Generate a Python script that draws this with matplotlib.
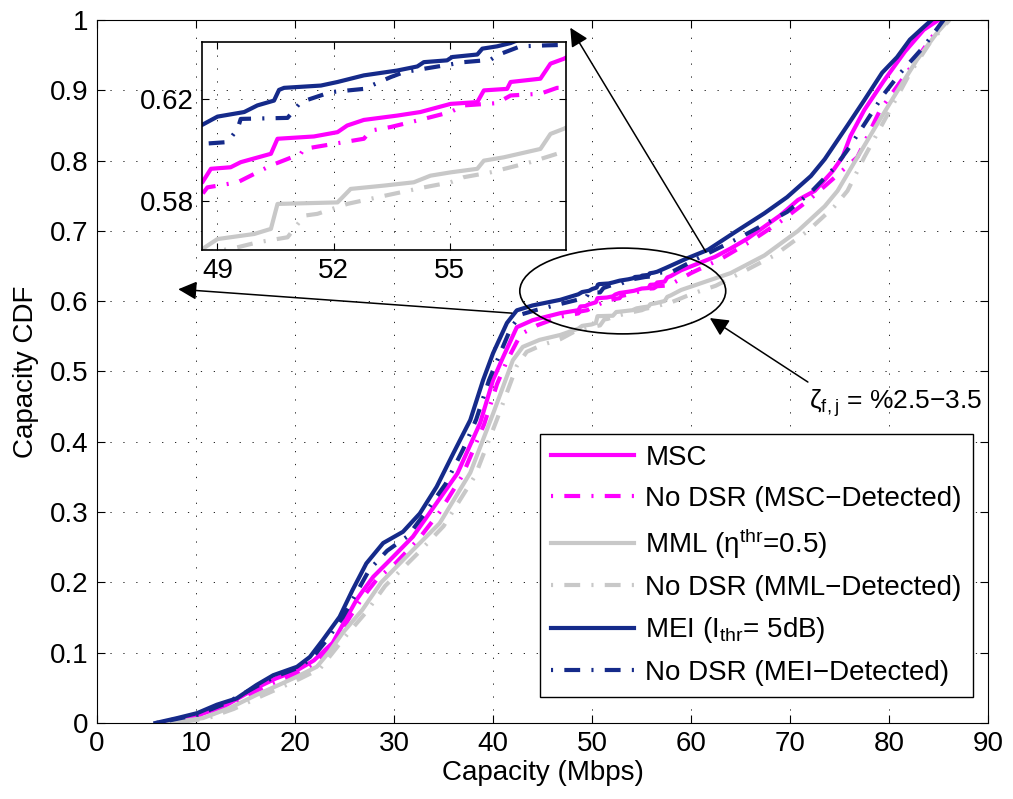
import matplotlib
matplotlib.use("Agg")
import matplotlib.pyplot as plt
from matplotlib.patches import Ellipse

plt.rcParams['font.family'] = ['Liberation Sans', 'DejaVu Sans']
plt.rcParams['mathtext.fontset'] = 'custom'
plt.rcParams['mathtext.rm'] = 'Liberation Sans'
plt.rcParams['mathtext.it'] = 'Liberation Sans'
plt.rcParams['mathtext.default'] = 'regular'

# ---- data (capacity in Mbps, CDF value) ----
msc_x = [6.2, 10.4, 13.0, 16.1, 18.0, 20.2, 21.9, 23.8, 26.2, 26.9, 27.9, 29.6, 31.9, 34.0, 36.4,
         38.7, 40.0, 41.0, 42.4, 44.0, 46.8,
         48.61, 48.83, 49.34, 49.6, 50.38, 50.55, 51.49, 52.10, 52.35, 52.78, 53.64, 54.24, 55.02,
         55.71, 55.88, 56.48, 56.57, 57.34, 57.60, 57.94,
         59.0, 62.4, 64.0, 65.7, 67.4, 69.0, 70.8, 72.5, 74.3, 75.3, 76.1, 77.5, 79.5, 81.6, 83.5, 85.0]
msc_y = [0.0, 0.012, 0.025, 0.050, 0.063, 0.075, 0.089, 0.114, 0.175, 0.189, 0.208, 0.232, 0.265, 0.307, 0.355,
         0.427, 0.488, 0.520, 0.563, 0.573, 0.583,
         0.5872, 0.5925, 0.5931, 0.5951, 0.5984, 0.6043, 0.6052, 0.6069, 0.6095, 0.6117, 0.6134, 0.6148, 0.6180,
         0.6187, 0.6233, 0.6239, 0.6266, 0.6279, 0.6338, 0.6357,
         0.644, 0.663, 0.675, 0.689, 0.706, 0.722, 0.744, 0.757, 0.785, 0.805, 0.835, 0.872, 0.914, 0.955, 0.986, 1.0]

msc_nd_x = [6.3, 10.5, 13.3, 16.3, 18.3, 20.4, 22.2, 24.0, 25.5, 26.8, 28.3, 30.2, 32.5, 34.6, 36.9,
            39.1, 40.4, 41.4, 42.8, 44.5, 46.8,
            48.61, 48.74, 49.52, 50.38, 51.15, 51.23, 52.78, 52.96, 53.47, 54.33, 55.02, 55.36, 56.22,
            56.57, 57.34, 57.77, 58.0,
            60.0, 63.0, 66.0, 69.0, 72.0, 74.5, 76.8, 79.1, 81.5, 84.1, 85.5]
msc_nd_y = [0.0, 0.010, 0.024, 0.047, 0.060, 0.072, 0.086, 0.114, 0.150, 0.178, 0.205, 0.228, 0.262, 0.300, 0.352,
            0.425, 0.482, 0.515, 0.553, 0.566, 0.578,
            0.5826, 0.5852, 0.5872, 0.5938, 0.5984, 0.6003, 0.6043, 0.6075, 0.6089, 0.6121, 0.6148, 0.6174, 0.6183,
            0.6213, 0.6220, 0.6243, 0.6243,
            0.640, 0.660, 0.685, 0.713, 0.745, 0.776, 0.805, 0.872, 0.919, 0.971, 1.0]

mml_x = [7.2, 10.7, 13.5, 16.1, 18.5, 20.2, 22.2, 23.5, 24.8, 26.8, 28.7, 31.9, 34.6, 37.7,
         40.0, 41.0, 42.0, 43.0, 44.7, 46.8,
         48.61, 49.0, 49.95, 50.38, 50.55, 52.10, 52.44, 53.30, 54.07, 54.50, 55.02, 55.71, 55.88,
         56.39, 57.34, 57.60, 57.94,
         59.0, 61.5, 64.0, 67.4, 70.8, 73.5, 74.8, 76.6, 78.8, 80.8, 82.8, 84.8, 86.0]
mml_y = [0.0, 0.007, 0.022, 0.040, 0.055, 0.066, 0.080, 0.102, 0.128, 0.161, 0.200, 0.246, 0.284, 0.356,
         0.440, 0.478, 0.516, 0.535, 0.545, 0.552,
         0.5610, 0.5649, 0.5669, 0.5689, 0.5787, 0.5793, 0.5846, 0.5859, 0.5872, 0.5898, 0.5911, 0.5925, 0.5957,
         0.5970, 0.6003, 0.6062, 0.6082,
         0.616, 0.628, 0.640, 0.665, 0.700, 0.735, 0.757, 0.800, 0.852, 0.898, 0.943, 0.981, 1.0]

mml_nd_x = [7.4, 11.0, 13.8, 16.4, 18.8, 20.5, 22.5, 23.8, 25.2, 27.2, 29.1, 32.3, 35.0, 38.2,
            40.4, 41.4, 42.4, 43.4, 45.0, 46.8,
            48.61, 49.34, 50.03, 50.81, 51.24, 51.58, 52.35, 53.13, 54.33, 55.02, 55.36, 56.05, 56.57,
            57.08, 57.77, 58.0,
            60.0, 62.5, 65.0, 68.4, 71.8, 74.5, 75.8, 77.5, 80.1, 82.1, 84.1, 86.1]
mml_nd_y = [0.0, 0.006, 0.020, 0.037, 0.052, 0.063, 0.077, 0.100, 0.125, 0.158, 0.195, 0.240, 0.280, 0.352,
            0.432, 0.470, 0.508, 0.528, 0.538, 0.546,
            0.5597, 0.5610, 0.5636, 0.5656, 0.5741, 0.5748, 0.5787, 0.5813, 0.5852, 0.5872, 0.5892, 0.5911, 0.5931,
            0.5951, 0.5984, 0.5984,
            0.610, 0.622, 0.640, 0.665, 0.700, 0.735, 0.757, 0.805, 0.872, 0.924, 0.967, 1.0]

mei_x = [5.9, 8.1, 10.1, 12.1, 14.1, 16.1, 17.8, 20.2, 21.5, 22.8, 24.5, 25.8, 27.2, 28.9, 30.9,
         32.6, 34.3, 36.0, 37.7, 39.0, 40.0, 41.4, 42.4, 44.0, 46.8,
         48.61, 49.0, 49.69, 50.03, 50.46, 50.59, 50.72, 51.67, 52.10, 52.78, 53.64, 54.16, 54.33,
         54.93, 55.06, 55.71, 55.84, 56.22, 56.57,
         57.4, 59.6, 61.7, 64.3, 67.4, 69.7, 72.1, 73.5, 75.8, 77.5, 79.3, 80.8, 82.1, 83.5, 84.3]
mei_y = [0.0, 0.007, 0.014, 0.026, 0.035, 0.054, 0.068, 0.080, 0.094, 0.118, 0.151, 0.189, 0.227, 0.256, 0.272,
         0.298, 0.336, 0.384, 0.431, 0.488, 0.526, 0.569, 0.587, 0.594, 0.602,
         0.6098, 0.6130, 0.6148, 0.6174, 0.6193, 0.6235, 0.6243, 0.6252, 0.6266, 0.6292, 0.6311, 0.6327, 0.6344,
         0.6351, 0.6364, 0.6374, 0.6397, 0.6406, 0.6419,
         0.647, 0.661, 0.673, 0.697, 0.725, 0.748, 0.778, 0.802, 0.850, 0.886, 0.925, 0.947, 0.972, 0.990, 1.0]

mei_nd_x = [6.0, 10.2, 13.0, 16.1, 18.0, 20.2, 21.7, 23.2, 24.8, 26.2, 27.5, 29.3, 31.4, 33.2, 35.2,
            37.0, 38.3, 39.6, 40.6, 41.8, 42.8, 44.5, 46.8,
            48.61, 49.26, 49.52, 49.6, 50.81, 51.15, 51.92, 52.78, 53.47, 53.82, 54.85, 55.36, 56.05,
            56.22, 56.82, 57.51, 58.0,
            60.4, 65.0, 69.7, 72.1, 74.5, 75.8, 77.8, 79.5, 81.1, 83.5, 85.5]
mei_nd_y = [0.0, 0.012, 0.028, 0.052, 0.066, 0.078, 0.092, 0.118, 0.150, 0.185, 0.218, 0.245, 0.266, 0.300, 0.340,
            0.390, 0.432, 0.488, 0.522, 0.562, 0.581, 0.588, 0.596,
            0.6023, 0.6030, 0.6082, 0.6121, 0.6125, 0.6187, 0.6226, 0.6239, 0.6285, 0.6305, 0.6331, 0.6344, 0.6353,
            0.6371, 0.6406, 0.6410, 0.6412,
            0.659, 0.691, 0.727, 0.755, 0.790, 0.815, 0.858, 0.895, 0.924, 0.962, 1.0]

labels = ['MSC', 'No DSR (MSC\u2212Detected)', 'MML (\u03b7$^{thr}$=0.5)',
          'No DSR (MML\u2212Detected)', 'MEI (I$_{thr}$= 5dB)', 'No DSR (MEI\u2212Detected)']

magenta = '#ff00ff'
gray = '#c8c8c8'
navy = '#152a8a'
dashdot = (0, (0.5, 2.7, 3.8, 2.7))
fs = 20

series = [
    (msc_x, msc_y, magenta, '-'),
    (msc_nd_x, msc_nd_y, magenta, dashdot),
    (mml_x, mml_y, gray, '-'),
    (mml_nd_x, mml_nd_y, gray, dashdot),
    (mei_x, mei_y, navy, '-'),
    (mei_nd_x, mei_nd_y, navy, dashdot),
]

fig = plt.figure(figsize=(10.13, 7.99), dpi=100)
ax = fig.add_axes([0.0958, 0.0951, 0.8796, 0.8799])

for (xs, ys, c, ls), lab in zip(series, labels):
    ax.plot(xs, ys, color=c, linestyle=ls, lw=3, label=lab)

ax.set_xlim(0, 90)
ax.set_ylim(0, 1)
ax.set_xticks(range(0, 91, 10))
ax.set_yticks([i / 10 for i in range(11)])
ax.set_yticklabels(['0', '0.1', '0.2', '0.3', '0.4', '0.5', '0.6', '0.7', '0.8', '0.9', '1'])
ax.tick_params(direction='in', top=True, right=True, length=6, labelsize=fs, pad=6)
ax.grid(True, color='k', lw=0.6, linestyle=(0, (1.5, 14)))
ax.set_xlabel('Capacity (Mbps)', fontsize=fs, labelpad=2)
ax.set_ylabel('Capacity CDF', fontsize=fs, labelpad=8)

leg = ax.legend(loc='lower right', bbox_to_anchor=(0.983, 0.037), borderaxespad=0, fontsize=fs,
                handlelength=3.0, labelspacing=0.52, borderpad=0.4, handletextpad=0.4,
                fancybox=False, framealpha=1, edgecolor='k')
leg.get_frame().set_linewidth(1.0)

# ellipse and arrows
ax.add_patch(Ellipse((53.1, 0.6145), 20.8, 0.122, fill=False, ec='k', lw=1.2, zorder=6))
arrow = dict(arrowstyle='-|>', color='k', lw=1.1, mutation_scale=28, shrinkA=0, shrinkB=0)
ax.annotate('', xy=(8.2, 0.617), xytext=(41.9, 0.583), arrowprops=arrow, annotation_clip=False, zorder=7)
ax.annotate('', xy=(47.8, 0.989), xytext=(61.5, 0.670), arrowprops=arrow, annotation_clip=False, zorder=7)
ax.annotate('', xy=(61.9, 0.576), xytext=(71.8, 0.485), arrowprops=arrow, annotation_clip=False, zorder=7)
ax.text(71.9, 0.455, '\u03b6$_{f,j}$ = %2.5\u22123.5', fontsize=19, va='center', ha='left')

# inset
ins = fig.add_axes([0.1994, 0.6871, 0.3593, 0.2603], facecolor='none')
for xs, ys, c, ls in series:
    ins.plot(xs, ys, color=c, linestyle=ls, lw=3)
ins.set_xlim(48.6, 58.0)
ins.set_ylim(0.5606, 0.6423)
ins.set_xticks([49, 52, 55])
ins.set_yticks([0.58, 0.62])
ins.set_yticklabels(['0.58', '0.62'])
ins.tick_params(direction='in', top=True, right=True, length=5, labelsize=fs, pad=6)
ins.grid(True, color='k', lw=0.6, linestyle=(0, (1.5, 14)))
for sp in ins.spines.values():
    sp.set_linewidth(1.2)

fig.savefig('out.png', dpi=100)
